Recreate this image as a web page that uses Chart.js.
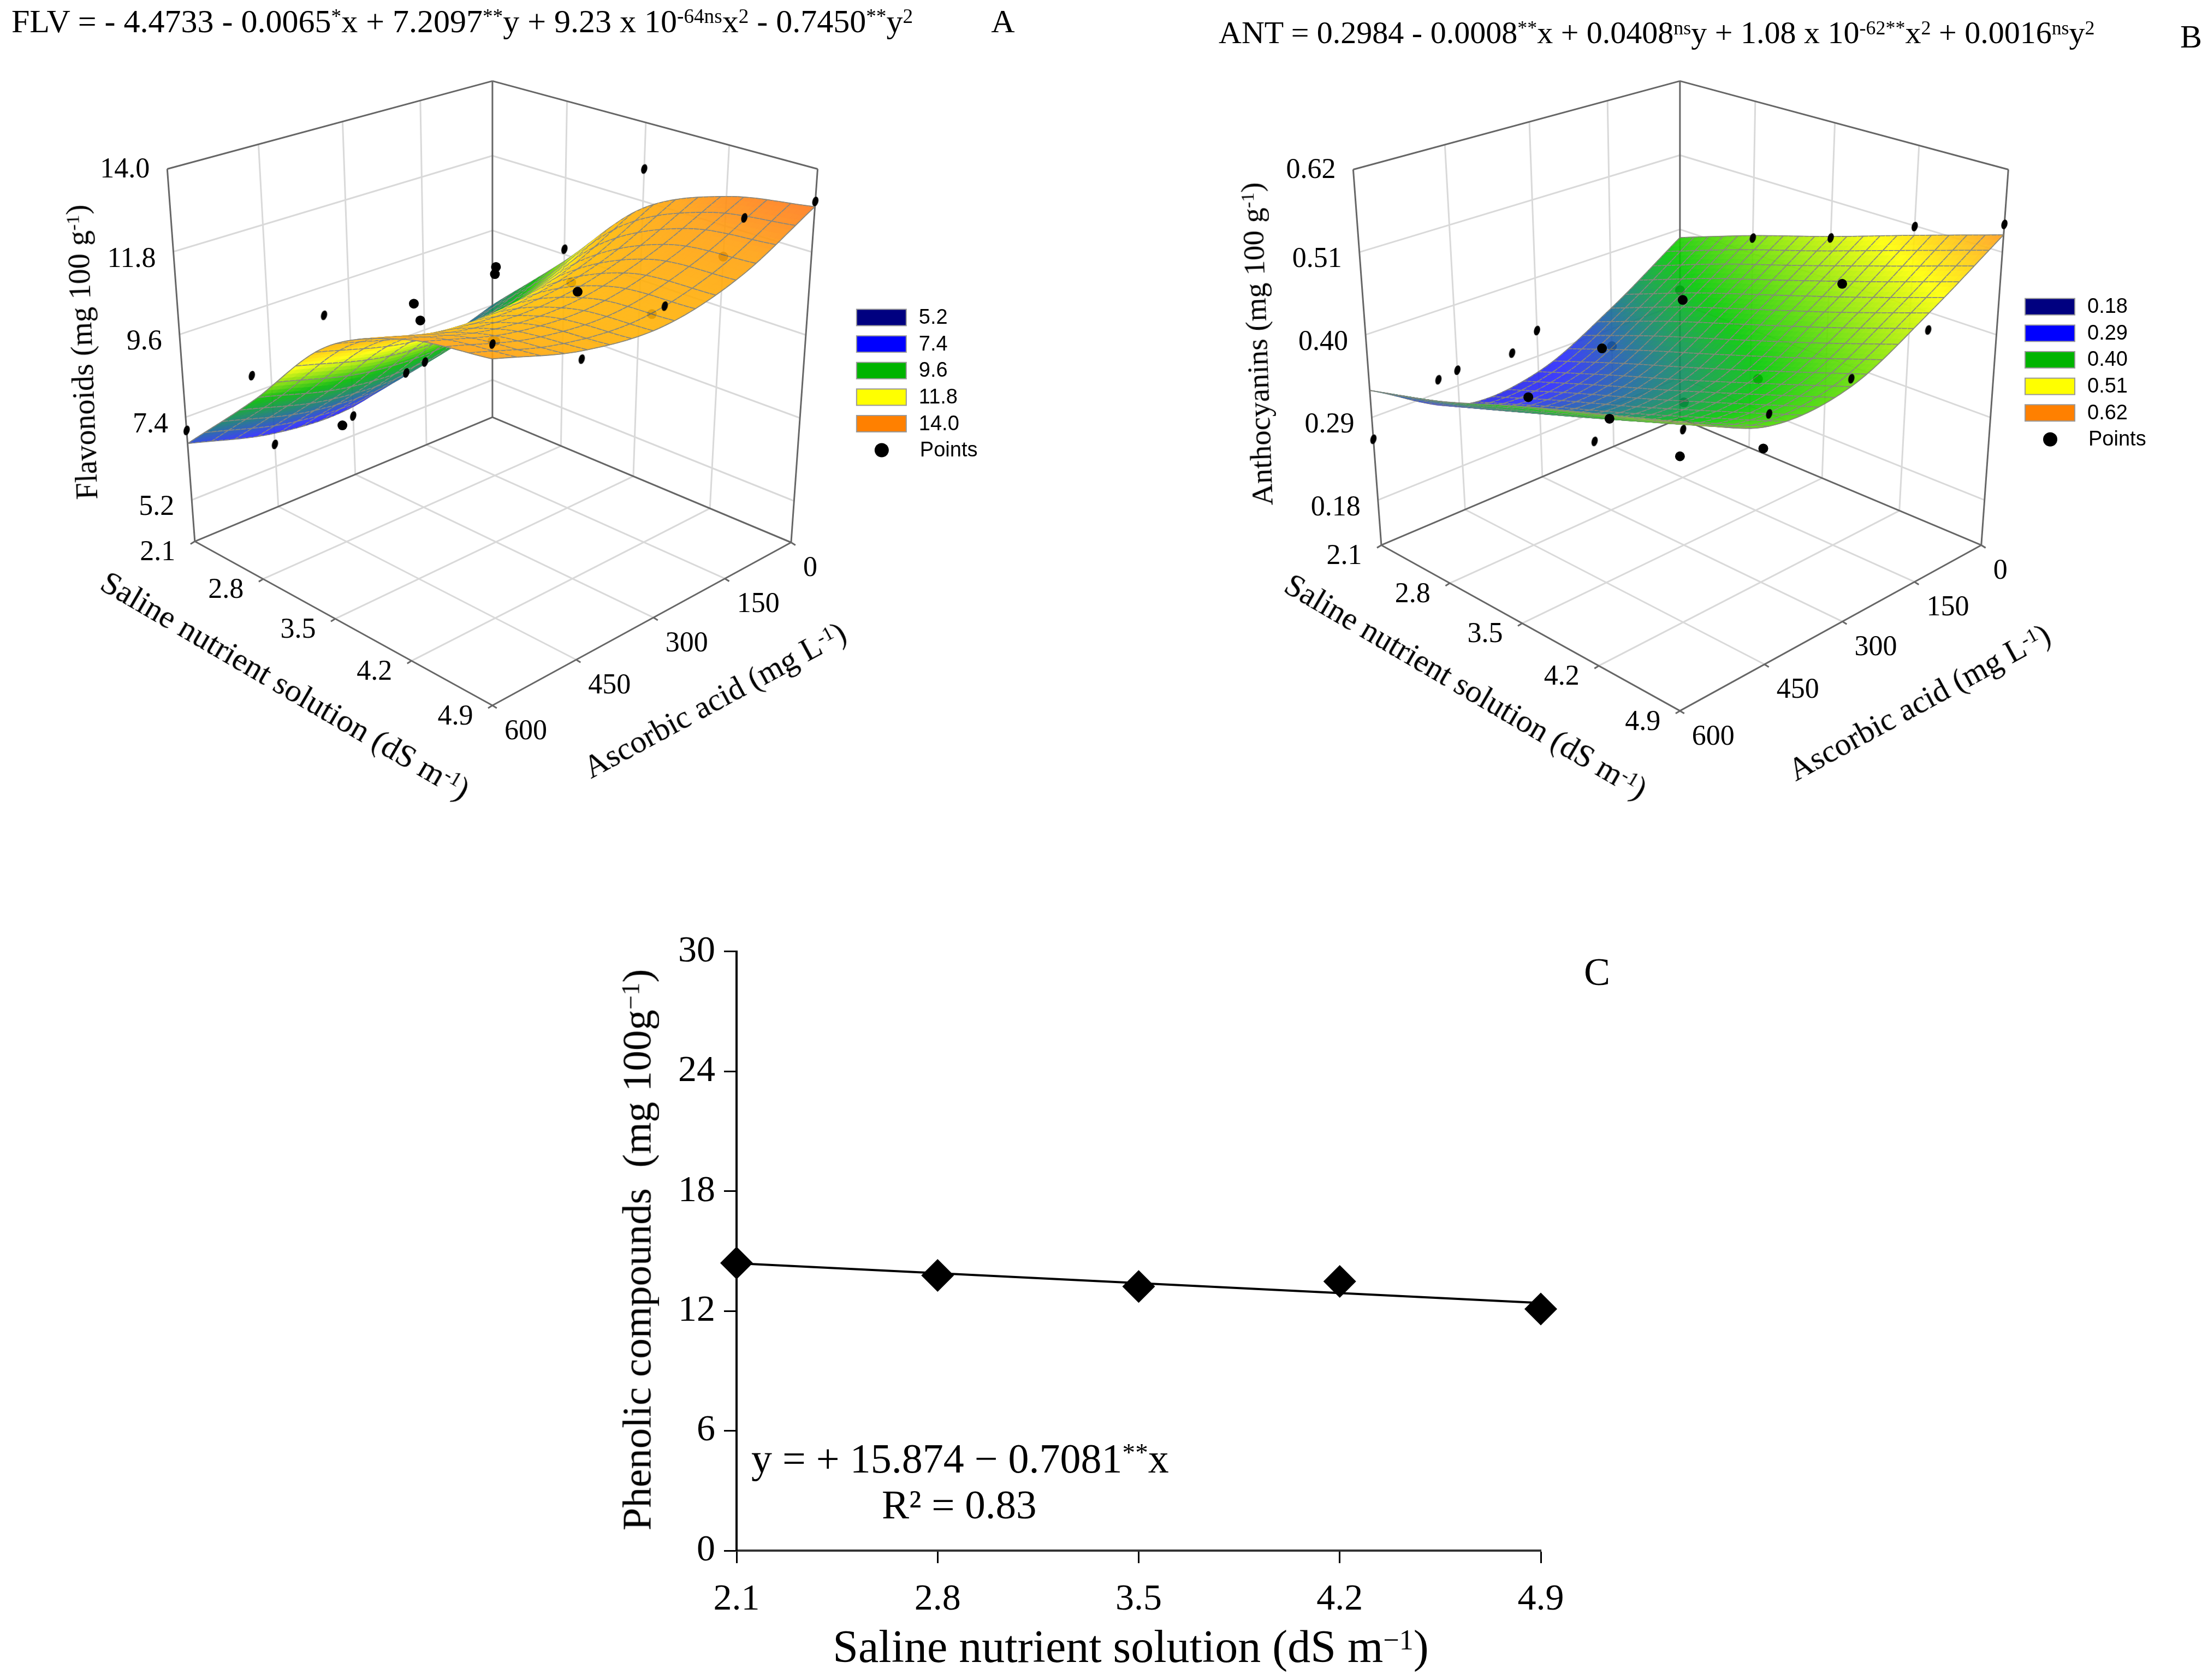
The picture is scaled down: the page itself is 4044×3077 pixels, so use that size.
<!DOCTYPE html>
<html>
<head>
<meta charset="utf-8">
<script src="https://cdn.jsdelivr.net/npm/chart.js@4"></script>
<style>
body { margin: 0; background: #fff; width: 4044px; height: 3077px; position: relative; overflow: hidden; font-family: 'Liberation Serif', serif; color: #000; }
canvas { position: absolute; }
.t { position: absolute; white-space: nowrap; line-height: 1; }
.mid { transform: translate(-50%, -50%); }
sup { font-size: .62em; line-height: 0; vertical-align: baseline; position: relative; top: -.45em; }
</style>
</head>
<body>
<canvas id="panelA" width="2000" height="1560" style="left:0;top:0"></canvas>
<canvas id="panelB" width="1964" height="1560" style="left:2080px;top:0"></canvas>
<canvas id="panelC" width="1800" height="1391" style="left:1100px;top:1686px"></canvas>

<div class="t" style="left:21px;top:9px;font-size:60px">FLV = - 4.4733 - 0.0065<sup>*</sup>x + 7.2097<sup>**</sup>y + 9.23 x 10<sup>-64ns</sup>x<sup>2</sup> - 0.7450<sup>**</sup>y<sup>2</sup></div>
<div class="t mid" style="left:1837px;top:39px;font-size:60px">A</div>
<div class="t" style="left:2232px;top:31px;font-size:58px">ANT = 0.2984 - 0.0008<sup>**</sup>x + 0.0408<sup>ns</sup>y + 1.08 x 10<sup>-62**</sup>x<sup>2</sup> + 0.0016<sup>ns</sup>y<sup>2</sup></div>
<div class="t mid" style="left:4013px;top:67px;font-size:60px">B</div>

<div class="t mid" style="left:150px;top:645px;font-size:56px;transform:translate(-50%,-50%) rotate(-92deg)">Flavonoids (mg 100 g<sup>-1</sup>)</div>
<div class="t mid" style="left:523px;top:1255px;font-size:60px;transform:translate(-50%,-50%) rotate(30.3deg)">Saline nutrient solution (dS m<sup>-1</sup>)</div>
<div class="t mid" style="left:1309px;top:1282px;font-size:59px;transform:translate(-50%,-50%) rotate(-28.4deg)">Ascorbic acid (mg L<sup>-1</sup>)</div>

<div class="t mid" style="left:2302px;top:630px;font-size:55px;transform:translate(-50%,-50%) rotate(-92deg)">Anthocyanins (mg 100 g<sup>-1</sup>)</div>
<div class="t mid" style="left:2685px;top:1257px;font-size:59px;transform:translate(-50%,-50%) rotate(30.4deg)">Saline nutrient solution (dS m<sup>-1</sup>)</div>
<div class="t mid" style="left:3515px;top:1286px;font-size:59px;transform:translate(-50%,-50%) rotate(-28.6deg)">Ascorbic acid (mg L<sup>-1</sup>)</div>

<div class="t mid" style="left:2925px;top:1780px;font-size:72px">C</div>
<div class="t" style="left:1376px;top:2633px;font-size:76px">y = + 15.874 − 0.7081<sup>**</sup>x</div>
<div class="t" style="left:1615px;top:2718px;font-size:75px">R² = 0.83</div>
<div class="t mid" style="left:1166px;top:2289px;font-size:75px;transform:translate(-50%,-50%) rotate(-90deg)">Phenolic compounds&nbsp; (mg 100g<sup>−1</sup>)</div>
<div class="t mid" style="left:2071px;top:3016px;font-size:84px">Saline nutrient solution (dS m<sup>−1</sup>)</div>

<script>
// Tick labels
const salineTicks = [2.1, 2.8, 3.5, 4.2, 4.9];
const acidTicks = [0, 150, 300, 450, 600];
const flvTicks = ['5.2', '7.4', '9.6', '11.8', '14.0'];
const antTicks = ['0.18', '0.29', '0.40', '0.51', '0.62'];
const phenolTicks = [0, 6, 12, 18, 24, 30];

// Surfaces read at the axis ticks, one row per acid dose, one column per salinity
const flvSurface = [
  [7.4, 9.4, 11.6, 12.6, 13.0],
  [6.7, 8.5, 10.6, 11.7, 11.9],
  [6.0, 8.0, 10.2, 11.2, 11.4],
  [6.1, 8.1, 10.3, 11.3, 11.6],
  [6.7, 8.7, 10.9, 11.9, 12.25]
];
const antSurface = [
  [0.388, 0.426, 0.46, 0.497, 0.533],
  [0.32, 0.36, 0.395, 0.43, 0.468],
  [0.268, 0.305, 0.34, 0.377, 0.415],
  [0.263, 0.30, 0.335, 0.372, 0.41],
  [0.326, 0.355, 0.393, 0.427, 0.46]
];

// Measured points, same layout as the surfaces
const flvPoints = [
  [6.34, 9.75, 12.7, 10.96, 13.14],
  [6.48, 9.74, 10.25, 10.15, 13.4],
  [5.74, 9.2, 11.4, 11.5, 11.9],
  [5.8, 7.19, 11.2, 11.03, 11.4],
  [7.05, 9.35, 11.7, 11.09, 12.6]
];
const antPoints = [
  [0.31, 0.4225, 0.458, 0.509, 0.547],
  [0.265, 0.37, 0.30, 0.468, 0.446],
  [0.326, 0.245, 0.31, 0.293, 0.425],
  [0.311, 0.317, 0.423, 0.362, 0.425],
  [0.261, 0.383, 0.459, 0.393, 0.42]
];

// Panel C
const salinity = [2.1, 2.8, 3.5, 4.2, 4.9];
const phenolic = [14.4, 13.78, 13.23, 13.48, 12.1];
const trendX = [2.1, 4.9];
const trendY = [14.39, 12.40];

const legendColors = ['#000080', '#0000ff', '#00b400', '#ffff00', '#ff8000'];

// Points sitting behind the surface [salinity index, acid index]
const flvUnder = ['0,0', '3,3', '2,1', '3,1', '3,0'];
const antUnder = ['0,0', '2,2', '2,1', '0,1'];
// Points that show as a full disc, the rest are clipped to a sliver in the figure
const flvFull = ['2,2', '1,1', '2,3', '1,2', '3,2', '1,3'];
const antFull = ['2,3', '1,3', '1,1', '4,4', '3,2', '3,1', '1,2'];

const sliver = document.createElement('canvas');
sliver.width = 24; sliver.height = 24;
const sctx = sliver.getContext('2d');
sctx.fillStyle = '#000';
sctx.beginPath();
sctx.ellipse(12, 12, 5.5, 9, 0.25, 0, Math.PI * 2);
sctx.fill();

function warp(t, p) {
  return t / (1 + p * (1 - t));
}

function hexRgb(h) {
  return [1, 3, 5].map(i => parseInt(h.substr(i, 2), 16));
}

function colorAt(stops, z) {
  if (z <= stops[0][0]) return hexRgb(stops[0][1]);
  for (let i = 1; i < stops.length; i++) {
    if (z <= stops[i][0]) {
      const t = (z - stops[i - 1][0]) / (stops[i][0] - stops[i - 1][0]);
      const a = hexRgb(stops[i - 1][1]), b = hexRgb(stops[i][1]);
      return a.map((v, k) => v + (b[k] - v) * t);
    }
  }
  return hexRgb(stops[stops.length - 1][1]);
}

// smooth curve through the values in one row, only to draw the mesh
function spline(arr, t) {
  const n = arr.length - 1;
  const u = Math.min(t * n, n - 1e-6);
  const i = Math.floor(u), f = u - i;
  const g = k => k < 0 ? 2 * arr[0] - arr[1] : k > n ? 2 * arr[n] - arr[n - 1] : arr[k];
  const p0 = g(i - 1), p1 = g(i), p2 = g(i + 1), p3 = g(i + 2);
  return 0.5 * (2 * p1 + (p2 - p0) * f + (2 * p0 - 5 * p1 + 4 * p2 - p3) * f * f + (3 * p1 - p0 - 3 * p2 + p3) * f * f * f);
}

function surfaceZ(grid, s, a) {
  return spline(grid.map(row => spline(row, s)), a);
}

function surfaceChart(id, cfg) {
  const project = (s, a, z) => {
    const w = (z - cfg.zMin) / (cfg.zMax - cfg.zMin);
    const s2 = warp(s, 0.12), a2 = warp(a, 0.17);
    const bil = c => (1 - s2) * (1 - a2) * c.b + s2 * (1 - a2) * c.r + (1 - s2) * a2 * c.l + s2 * a2 * c.f;
    return {
      x: bil(cfg.floorX) + (bil(cfg.topX) - bil(cfg.floorX)) * w,
      y: bil(cfg.floorY) + (bil(cfg.topY) - bil(cfg.floorY)) * w
    };
  };

  const over = [], under = [], overStyle = [];
  cfg.points.forEach((row, j) => row.forEach((z, i) => {
    const key = i + ',' + j;
    if (cfg.under.includes(key)) under.push(project(i / 4, j / 4, z));
    else {
      over.push(project(i / 4, j / 4, z));
      overStyle.push(cfg.full.includes(key) ? 'circle' : sliver);
    }
  }));

  const backdrop = {
    id: 'backdrop',
    beforeDatasetsDraw(chart) {
      const ctx = chart.ctx;
      const X = v => chart.scales.x.getPixelForValue(v), Y = v => chart.scales.y.getPixelForValue(v);
      const seg = (p, q) => { ctx.beginPath(); ctx.moveTo(X(p.x), Y(p.y)); ctx.lineTo(X(q.x), Y(q.y)); ctx.stroke(); };
      const fr = [0.25, 0.5, 0.75];
      const zs = cfg.zLevels;

      // grid on floor and walls
      ctx.strokeStyle = '#d9d9d9';
      ctx.lineWidth = 3;
      fr.forEach(t => {
        seg(project(t, 0, cfg.zMin), project(t, 1, cfg.zMin));
        seg(project(0, t, cfg.zMin), project(1, t, cfg.zMin));
        seg(project(0, t, cfg.zMin), project(0, t, cfg.zMax));
        seg(project(t, 0, cfg.zMin), project(t, 0, cfg.zMax));
      });
      zs.forEach(z => {
        seg(project(0, 1, z), project(0, 0, z));
        seg(project(0, 0, z), project(1, 0, z));
      });

      // frame
      ctx.strokeStyle = '#666';
      ctx.lineWidth = 3;
      [[0, 1], [0, 0], [1, 0]].forEach(c => seg(project(c[0], c[1], cfg.zMin), project(c[0], c[1], cfg.zMax)));
      seg(project(0, 1, cfg.zMax), project(0, 0, cfg.zMax));
      seg(project(0, 0, cfg.zMax), project(1, 0, cfg.zMax));
      seg(project(0, 1, cfg.zMin), project(0, 0, cfg.zMin));
      seg(project(0, 0, cfg.zMin), project(1, 0, cfg.zMin));
      seg(project(0, 1, cfg.zMin), project(1, 1, cfg.zMin));
      seg(project(1, 1, cfg.zMin), project(1, 0, cfg.zMin));

      // tick labels
      ctx.fillStyle = '#000';
      ctx.font = '52px "Liberation Serif"';
      ctx.textBaseline = 'middle';
      ctx.textAlign = 'right';
      zs.forEach((z, i) => {
        const p = project(0, 1, z);
        ctx.fillText(cfg.zLabels[i], X(p.x) - 32, Y(p.y) + 14);
      });
      ctx.fillText(cfg.zLabels[4], X(project(0, 1, cfg.zMax).x) - 32, Y(project(0, 1, cfg.zMax).y) + 2);
      ctx.textAlign = 'center';
      salineTicks.forEach((v, i) => {
        const p = project(i / 4, 1, cfg.zMin);
        ctx.fillText(v.toFixed(1), X(p.x) - 68, Y(p.y) + 21);
        ctx.strokeStyle = '#666';
        seg(p, { x: p.x - 8, y: p.y + 5 });
      });
      ctx.textAlign = 'left';
      acidTicks.forEach((v, j) => {
        const p = project(1, j / 4, cfg.zMin);
        ctx.fillText(String(v), X(p.x) + 22, Y(p.y) + 48);
        seg(p, { x: p.x + 8, y: p.y + 5 });
      });

      // legend
      ctx.font = '38px "Liberation Sans"';
      cfg.zLabels.forEach((label, i) => {
        const top = cfg.legendY + i * 49.2;
        ctx.fillStyle = legendColors[i];
        ctx.strokeStyle = '#999';
        ctx.lineWidth = 2;
        ctx.fillRect(X(cfg.legendX), Y(top), 91, 30);
        ctx.strokeRect(X(cfg.legendX), Y(top), 91, 30);
        ctx.fillStyle = '#000';
        ctx.fillText(label, X(cfg.legendX) + 114, Y(top) + 16);
      });
      const py = cfg.legendY + 5 * 49.2 + 15;
      ctx.beginPath();
      ctx.arc(X(cfg.legendX) + 46, Y(py), 13, 0, Math.PI * 2);
      ctx.fill();
      ctx.fillText('Points', X(cfg.legendX) + 116, Y(py) + 1);
    },
    afterDatasetDraw(chart, args) {
      if (args.index !== 1) return;
      const off = document.createElement('canvas');
      off.width = chart.width; off.height = chart.height;
      const c = off.getContext('2d');
      const X = v => chart.scales.x.getPixelForValue(v), Y = v => chart.scales.y.getPixelForValue(v);
      const sub = cfg.meshStep, M = 60;
      const P = [], Z = [];
      for (let i = 0; i <= M; i++) {
        P.push([]); Z.push([]);
        for (let j = 0; j <= M; j++) {
          const z = surfaceZ(cfg.surface, i / M, j / M);
          const p = project(i / M, j / M, z);
          P[i].push({ x: X(p.x), y: Y(p.y) });
          Z[i].push(z);
        }
      }
      c.lineJoin = 'round';
      const edge = (p, q) => {
        c.beginPath(); c.moveTo(p.x, p.y); c.lineTo(q.x, q.y); c.stroke();
      };
      for (let d = 0; d <= 2 * M - 2; d++) {
        for (let i = Math.max(0, d - M + 1); i <= Math.min(M - 1, d); i++) {
          const j = d - i;
          const z = (Z[i][j] + Z[i + 1][j] + Z[i][j + 1] + Z[i + 1][j + 1]) / 4;
          const rgb = colorAt(cfg.stops, z).map(Math.round);
          const col = `rgb(${rgb[0]},${rgb[1]},${rgb[2]})`;
          c.fillStyle = col; c.strokeStyle = col; c.lineWidth = 1.2;
          c.beginPath();
          c.moveTo(P[i][j].x, P[i][j].y);
          c.lineTo(P[i + 1][j].x, P[i + 1][j].y);
          c.lineTo(P[i + 1][j + 1].x, P[i + 1][j + 1].y);
          c.lineTo(P[i][j + 1].x, P[i][j + 1].y);
          c.closePath();
          c.fill(); c.stroke();
          c.strokeStyle = 'rgb(122,122,112)';
          c.lineWidth = 1.8;
          if (i % sub === 0) edge(P[i][j], P[i][j + 1]);
          if (j % sub === 0) edge(P[i][j], P[i + 1][j]);
          if (i === M - 1) edge(P[i + 1][j], P[i + 1][j + 1]);
          if (j === M - 1) edge(P[i][j + 1], P[i + 1][j + 1]);
        }
      }
      chart.ctx.save();
      chart.ctx.globalAlpha = 0.9;
      chart.ctx.drawImage(off, 0, 0);
      chart.ctx.restore();
    }
  };

  return new Chart(document.getElementById(id), {
    type: 'scatter',
    data: {
      datasets: [
        { label: 'Points', data: over, pointRadius: 9, pointHoverRadius: 9, pointStyle: overStyle, pointBackgroundColor: '#000', pointBorderWidth: 0, clip: false },
        { label: 'Points behind', data: under, pointRadius: 9, pointStyle: 'circle', pointBackgroundColor: '#000', pointBorderWidth: 0, clip: false }
      ]
    },
    options: {
      responsive: false,
      devicePixelRatio: 1,
      animation: false,
      layout: { padding: 0 },
      scales: {
        x: { display: false, min: cfg.left, max: cfg.left + cfg.width },
        y: { display: false, min: 0, max: cfg.height, reverse: true }
      },
      plugins: { legend: { display: false }, tooltip: { enabled: false } }
    },
    plugins: [backdrop]
  });
}

surfaceChart('panelA', {
  left: 0, width: 2000, height: 1560,
  zMin: 4.1, zMax: 14,
  zLevels: [5.2, 7.4, 9.6, 11.8],
  zLabels: flvTicks,
  floorX: { b: 901, r: 1453, l: 351, f: 901 },
  floorY: { b: 764, r: 996, l: 994, f: 1298 },
  topX: { b: 901, r: 1502, l: 300, f: 901 },
  topY: { b: 141, r: 304, l: 304, f: 518 },
  surface: flvSurface,
  points: flvPoints,
  under: flvUnder,
  full: flvFull,
  meshStep: 4,
  stops: [[5.2, '#1a1a90'], [6.3, '#2a2aff'], [8.7, '#00b800'], [10.0, '#ffff00'], [10.7, '#ffc000'], [12.2, '#ffa010'], [13.2, '#ff7020']],
  legendX: 1574, legendY: 564
});

surfaceChart('panelB', {
  left: 2080, width: 1964, height: 1560,
  zMin: 0.12, zMax: 0.62,
  zLevels: [0.18, 0.29, 0.40, 0.51],
  zLabels: antTicks,
  floorX: { b: 3077, r: 3634, l: 2525, f: 3077 },
  floorY: { b: 766, r: 1001, l: 1001, f: 1308 },
  topX: { b: 3077, r: 3684, l: 2473, f: 3077 },
  topY: { b: 141, r: 305, l: 305, f: 522 },
  surface: antSurface,
  points: antPoints,
  under: antUnder,
  full: antFull,
  meshStep: 3,
  stops: [[0.18, '#1a1a90'], [0.28, '#2a2aff'], [0.375, '#00c800'], [0.48, '#ffff00'], [0.54, '#ff9020']],
  legendX: 3715, legendY: 544
});

new Chart(document.getElementById('panelC'), {
  type: 'scatter',
  data: {
    datasets: [
      {
        label: 'Phenolic compounds',
        data: salinity.map((x, i) => ({ x, y: phenolic[i] })),
        pointStyle: 'rectRot',
        pointRadius: 30,
        pointBackgroundColor: '#000',
        pointBorderWidth: 0,
        clip: false
      },
      {
        label: 'Trend',
        data: trendX.map((x, i) => ({ x, y: trendY[i] })),
        showLine: true,
        pointRadius: 0,
        borderColor: '#000',
        borderWidth: 4
      }
    ]
  },
  options: {
    responsive: false,
    devicePixelRatio: 1,
    animation: false,
    layout: { padding: { left: 20, right: 78, top: 30, bottom: 20 } },
    scales: {
      x: {
        type: 'linear',
        min: 2.1,
        max: 4.9,
        afterBuildTicks: axis => { axis.ticks = salineTicks.map(value => ({ value })); },
        afterFit: axis => { axis.height = 217; },
        border: { color: '#333', width: 4 },
        grid: { drawOnChartArea: false, color: '#000', tickLength: 23, tickWidth: 3 },
        ticks: { color: '#000', font: { family: 'Liberation Serif', size: 68 }, padding: 26, maxRotation: 0, callback: v => v.toFixed(1) }
      },
      y: {
        min: 0,
        max: 30,
        afterBuildTicks: axis => { axis.ticks = phenolTicks.map(value => ({ value })); },
        afterFit: axis => { axis.width = 229; },
        border: { color: '#000', width: 4 },
        grid: { drawOnChartArea: false, color: '#000', tickLength: 23, tickWidth: 3 },
        ticks: { color: '#000', font: { family: 'Liberation Serif', size: 68 }, padding: 16 }
      }
    },
    plugins: { legend: { display: false }, tooltip: { enabled: false } }
  }
});
</script>
</body>
</html>
